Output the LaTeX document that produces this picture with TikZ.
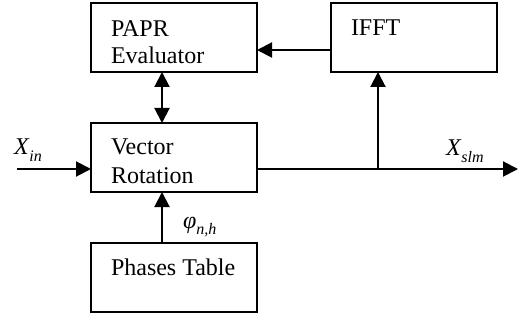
\documentclass[tikz,border=0pt]{standalone}
\usepackage{fontspec}
\setmainfont{Liberation Serif}
\usetikzlibrary{arrows.meta}
% italic symbol with a lowered italic subscript
\newcommand{\symsub}[2]{\textit{#1}\raisebox{-0.28em}{\fontsize{16}{16}\selectfont\textit{#2}}}
\begin{document}
\begin{tikzpicture}[x=1pt,y=-1pt,line width=2pt,
  block/.style={draw,rectangle,line width=2pt,minimum width=166pt,minimum height=69pt,
                inner sep=0pt,outer sep=0pt,anchor=north west},
  lbl/.style={anchor=base west,inner sep=0pt,font=\fontsize{24}{27}\selectfont},
  flow/.style={-{Triangle[length=15pt,width=15pt]}},
  bothway/.style={{Triangle[length=15pt,width=15pt]}-{Triangle[length=15pt,width=15pt]}},
]
\useasboundingbox (0,0) rectangle (518,320);

% blocks
\node[block] (papr) at (91,3) {};
\node[block] (ifft) at (331,3) {};
\node[block] (vr)   at (91,123) {};
\node[block] (pt)   at (91,243) {};

% block captions
\node[lbl] (paprA) at (110,37) {PAPR};
\node[lbl] (paprB) at (110,64) {Evaluator};
\node[lbl] (ifftA) at (350,36) {IFFT};
\node[lbl] (vrA)   at (110,155) {Vector};
\node[lbl] (vrB)   at (110,183) {Rotation};
\node[lbl] (ptA)   at (110,275) {Phases Table};

% signal labels
\node[lbl] (xin)  at (13,155) {\symsub{X}{in}};
\node[lbl] (xslm) at (445,156) {\symsub{X}{slm}};
\node[lbl] (phi)  at (182,228) {\symsub{φ}{n,h}};

% free ends and branch point
\coordinate (src)    at (17,169);
\coordinate (sink)   at (518,169);
\coordinate (branch) at (378,169);

% connectors
\draw[flow] ([yshift=-12.5pt]ifft.west) -- ([yshift=-12.5pt]papr.east);
\draw[bothway] ([xshift=-12pt]papr.south) -- ([xshift=-12pt]vr.north);
\draw[flow] ([xshift=-12pt]pt.north) -- ([xshift=-12pt]vr.south);
\draw[flow] (src) -- (src -| vr.west);
\draw[flow] (src -| vr.east) -- (sink);
\draw[flow] (branch) -- (branch |- ifft.south);
\end{tikzpicture}
\end{document}
